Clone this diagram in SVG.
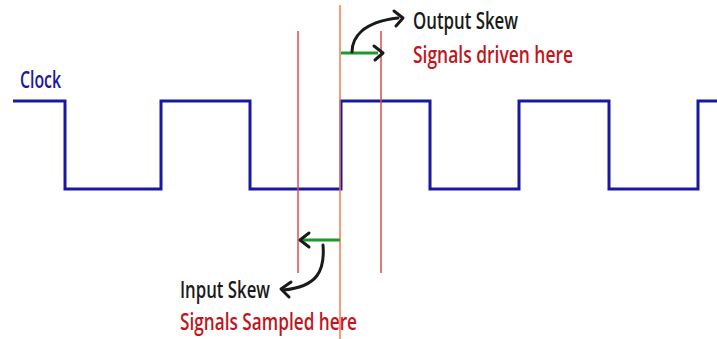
<svg xmlns="http://www.w3.org/2000/svg" width="717" height="339" viewBox="0 0 717 339">
<style>
.clk{fill:none;stroke:#1818a0;stroke-width:3;stroke-linejoin:miter}
.red{stroke:#e04a50;stroke-width:1.5}
.org{stroke:#f27a4a;stroke-width:1.5}
.grn{stroke:#1a9a2a;stroke-width:3}
.ink{fill:none;stroke:#1a1a1a;stroke-width:3;stroke-linecap:round;stroke-linejoin:round}
text{font-family:"Open Sans","Liberation Sans",sans-serif;font-size:23px;font-weight:600}
.blk{fill:#1a1a1a}
.rt{fill:#c0161c}
.blue{fill:#1818a0}
</style>
<rect width="717" height="339" fill="#ffffff"/>
<g id="clock">
<path class="clk" d="M13,101 H65 V189 H161 V101 H250 V189 H341 V101 H430 V189 H519 V101 H609 V189 H698 V101 H717"/>
<text class="blue" x="20" y="88" textLength="41" lengthAdjust="spacingAndGlyphs">Clock</text>
</g>
<g id="markers">
<line class="red" x1="298" y1="31" x2="298" y2="273"/>
<line class="org" x1="340" y1="5" x2="340" y2="339"/>
<line class="red" x1="381" y1="31" x2="381" y2="273"/>
</g>
<g id="connectors">
<line class="grn" x1="341" y1="53" x2="378" y2="53"/>
<path class="ink" d="M374,46 L383,53 L375,60"/>
<path class="ink" d="M352,52 C352,38 362,22 398,18"/>
<path class="ink" d="M394,11 L403,18 L396,26"/>
<line class="grn" x1="340" y1="240" x2="303" y2="240"/>
<path class="ink" d="M309,233 L300,240 L309,247"/>
<path class="ink" d="M323,245 C325,270 318,287 283,290"/>
<path class="ink" d="M291,282 L281,289 L289,297"/>
</g>
<g id="output-skew">
<text class="blk" x="413" y="29" textLength="105" lengthAdjust="spacingAndGlyphs">Output Skew</text>
<text class="rt" x="413" y="63" textLength="160" lengthAdjust="spacingAndGlyphs">Signals driven here</text>
</g>
<g id="input-skew">
<text class="blk" x="180" y="298" textLength="90" lengthAdjust="spacingAndGlyphs">Input Skew</text>
<text class="rt" x="180" y="330" textLength="177" lengthAdjust="spacingAndGlyphs">Signals Sampled here</text>
</g>
</svg>
